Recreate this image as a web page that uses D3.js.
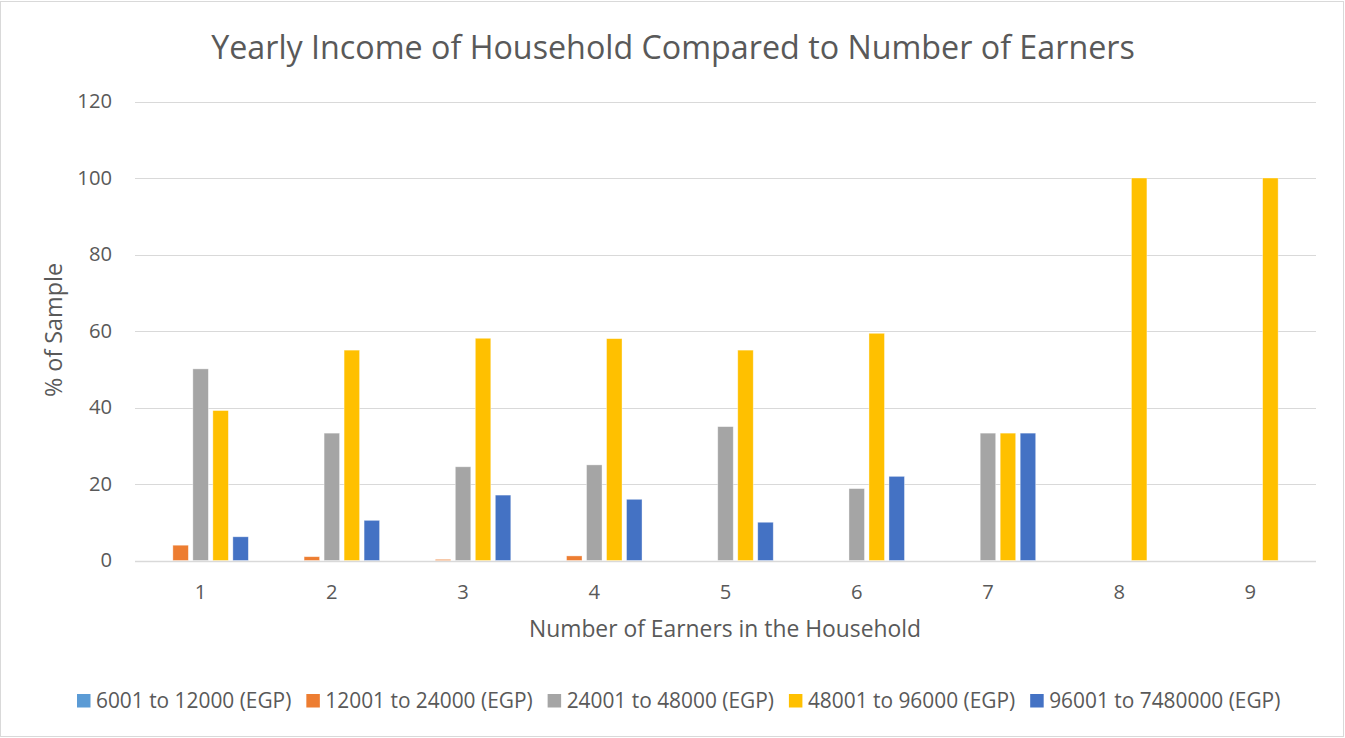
<!DOCTYPE html>
<html>
<head>
<meta charset="utf-8">
<script src="https://cdn.jsdelivr.net/npm/d3@7"></script>
<style>
  html, body { margin: 0; padding: 0; background: #fff; }
  svg { display: block; font-family: "Open Sans", "Noto Sans", sans-serif; }
</style>
</head>
<body>
<svg id="chart" width="1345" height="738"></svg>
<script>
// Number of earners per household (x categories)
const earners = ["1", "2", "3", "4", "5", "6", "7", "8", "9"];

// Income bands (series)
const bands = [
  "6001 to 12000 (EGP)",
  "12001 to 24000 (EGP)",
  "24001 to 48000 (EGP)",
  "48001 to 96000 (EGP)",
  "96001 to 7480000 (EGP)"
];

// Share of sample (%) per income band, by number of earners
const band6001   = [0, 0, 0, 0, 0, 0, 0, 0, 0];
const band12001  = [4.0, 1.0, 0.3, 1.2, 0, 0, 0, 0, 0];
const band24001  = [50.1, 33.3, 24.5, 25.0, 35.0, 18.8, 33.3, 0, 0];
const band48001  = [39.2, 55.0, 58.1, 58.0, 55.0, 59.4, 33.3, 100, 100];
const band96001  = [6.2, 10.5, 17.1, 16.0, 10.0, 22.0, 33.3, 0, 0];

const yTicks = [0, 20, 40, 60, 80, 100, 120];

const seriesValues = [band6001, band12001, band24001, band48001, band96001];
const colors = ["#5B9BD5", "#ED7D31", "#A5A5A5", "#FFC000", "#4472C4"];

const svg = d3.select("#chart");
const W = 1345, H = 738;
const textColor = "#595959";
const gridColor = "#D9D9D9";

// sets a font size so that the text spans the given width
function fitText(sel, width) {
  const node = sel.node();
  const base = parseFloat(sel.style("font-size"));
  const w = node.getComputedTextLength();
  sel.style("font-size", (base * width / w).toFixed(2) + "px");
  return sel;
}

// outer chart frame
svg.append("rect")
  .attr("x", 0.5).attr("y", 1.5)
  .attr("width", W - 2).attr("height", H - 3)
  .attr("fill", "#fff").attr("stroke", gridColor).attr("stroke-width", 1);

const plot = { left: 135, right: 1316, top: 101.5, bottom: 560.5 };

const x = d3.scaleBand()
  .domain(earners)
  .range([plot.left, plot.right])
  .paddingInner(0).paddingOuter(0);

const slot = 20;
const barW = 15.5;
const xs = d3.scaleBand()
  .domain(bands)
  .range([-slot * 2.5, slot * 2.5])
  .padding(0);

const y = d3.scaleLinear()
  .domain([0, 120])
  .range([plot.bottom, plot.top]);

// gridlines
svg.append("g")
  .selectAll("line")
  .data(yTicks)
  .join("line")
  .attr("x1", plot.left).attr("x2", plot.right)
  .attr("y1", d => Math.round(y(d)) + 0.5)
  .attr("y2", d => Math.round(y(d)) + 0.5)
  .attr("stroke", gridColor)
  .attr("stroke-width", d => d === 0 ? 1.5 : 1);

// y tick labels
const tickFont = 20.2;
const yAxis = d3.axisLeft(y).tickValues(yTicks).tickSize(0).tickPadding(0);
const gy = svg.append("g")
  .attr("transform", `translate(${plot.left - 23},0)`)
  .call(yAxis);
gy.select(".domain").remove();
gy.selectAll("text")
  .attr("fill", textColor)
  .style("font-size", tickFont + "px")
  .style("font-family", "'Open Sans', 'Noto Sans', sans-serif");

// bars
const series = bands.map((b, i) => ({ band: b, color: colors[i], values: seriesValues[i] }));
const gBars = svg.append("g");
series.forEach(s => {
  gBars.append("g")
    .selectAll("rect")
    .data(s.values.map((v, j) => ({ cat: earners[j], v })))
    .join("rect")
    .attr("x", d => x(d.cat) + x.bandwidth() / 2 + xs(s.band) + (slot - barW) / 2)
    .attr("width", barW)
    .attr("y", d => y(d.v))
    .attr("height", d => y(0) - y(d.v))
    .attr("fill", s.color)
    .attr("stroke", "#fff")
    .attr("stroke-opacity", 0.5)
    .attr("stroke-width", 0.75);
});

// x tick labels
const xAxis = d3.axisBottom(x).tickSize(0).tickPadding(0);
const gx = svg.append("g")
  .attr("transform", `translate(0,${plot.bottom})`)
  .call(xAxis);
gx.select(".domain").remove();
gx.selectAll("text")
  .attr("dy", null)
  .attr("y", 38.5)
  .attr("fill", textColor)
  .style("font-size", tickFont + "px")
  .style("font-family", "'Open Sans', 'Noto Sans', sans-serif");

// title
fitText(svg.append("text")
  .attr("x", 673).attr("y", 59)
  .attr("text-anchor", "middle")
  .attr("fill", textColor)
  .style("font-size", "30px")
  .text("Yearly Income of Household Compared to Number of Earners"), 924);

// axis titles
fitText(svg.append("text")
  .attr("x", 725).attr("y", 637)
  .attr("text-anchor", "middle")
  .attr("fill", textColor)
  .style("font-size", "20px")
  .text("Number of Earners in the Household"), 392);

fitText(svg.append("text")
  .attr("transform", "translate(62,330) rotate(-90)")
  .attr("text-anchor", "middle")
  .attr("fill", textColor)
  .style("font-size", "20px")
  .text("% of Sample"), 134);

// legend
const legend = svg.append("g").attr("transform", "translate(77,707.5)");
const swatch = 13.5;
let lx = 0;
let legendFont = null;
series.forEach((s, i) => {
  const g = legend.append("g").attr("transform", `translate(${lx},0)`);
  g.append("rect")
    .attr("x", 0).attr("y", -swatch)
    .attr("width", swatch).attr("height", swatch)
    .attr("fill", s.color);
  const t = g.append("text")
    .attr("x", 19).attr("y", 0)
    .attr("fill", textColor)
    .style("font-size", "20px")
    .text(s.band);
  if (i === 0) {
    fitText(t, 195.5);
    legendFont = t.style("font-size");
  } else {
    t.style("font-size", legendFont);
  }
  lx += 19 + t.node().getComputedTextLength() + 15;
});
</script>
</body>
</html>
